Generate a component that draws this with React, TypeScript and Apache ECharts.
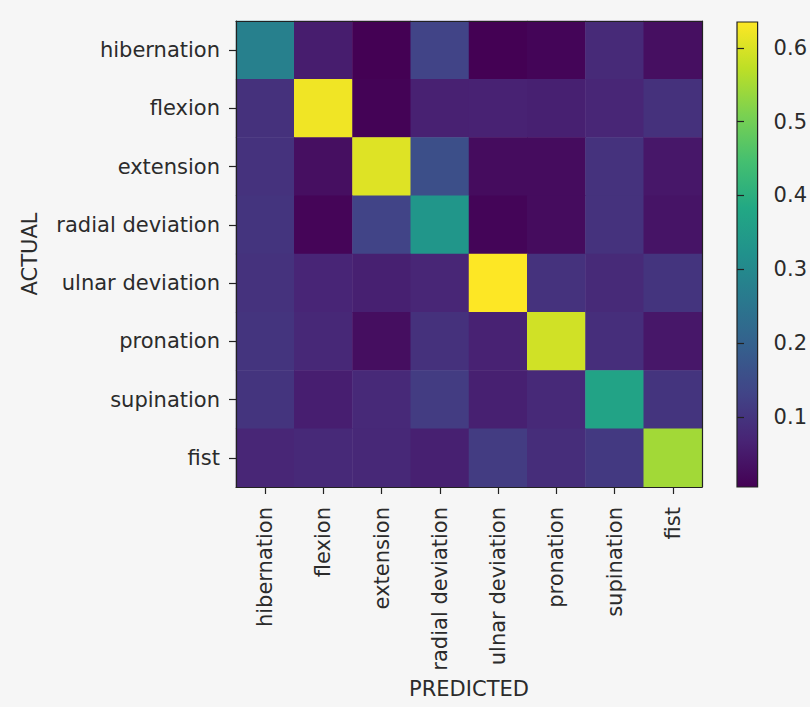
import React, { useEffect, useRef } from "react";
import * as echarts from "echarts";

const actualLabels = [
  "hibernation",
  "flexion",
  "extension",
  "radial deviation",
  "ulnar deviation",
  "pronation",
  "supination",
  "fist",
];
const predictedLabels = [
  "hibernation",
  "flexion",
  "extension",
  "radial deviation",
  "ulnar deviation",
  "pronation",
  "supination",
  "fist",
];

// rows = actual, columns = predicted
const rowHibernation = [0.276, 0.055, 0.005, 0.131, 0.005, 0.012, 0.08, 0.03];
const rowFlexion = [0.093, 0.622, 0.008, 0.062, 0.065, 0.06, 0.072, 0.093];
const rowExtension = [0.095, 0.03, 0.604, 0.156, 0.025, 0.025, 0.095, 0.045];
const rowRadial = [0.1, 0.013, 0.131, 0.333, 0.012, 0.025, 0.095, 0.04];
const rowUlnar = [0.095, 0.07, 0.06, 0.072, 0.635, 0.095, 0.08, 0.1];
const rowPronation = [0.1, 0.075, 0.028, 0.093, 0.065, 0.591, 0.088, 0.045];
const rowSupination = [0.1, 0.058, 0.077, 0.115, 0.06, 0.078, 0.37, 0.1];
const rowFist = [0.072, 0.078, 0.075, 0.06, 0.115, 0.085, 0.11, 0.547];

const matrix = [
  rowHibernation,
  rowFlexion,
  rowExtension,
  rowRadial,
  rowUlnar,
  rowPronation,
  rowSupination,
  rowFist,
];

const colorMin = 0.005;
const colorMax = 0.635;
const colorbarTicks = [0.1, 0.2, 0.3, 0.4, 0.5, 0.6];

const viridis = [
  "#440154",
  "#482475",
  "#414487",
  "#355f8d",
  "#2a788e",
  "#21918c",
  "#22a884",
  "#44bf70",
  "#7ad151",
  "#bddf26",
  "#fde725",
];

const FONT = "DejaVu Sans";
const TEXT = "#2b2b2b";

export default function App() {
  const ref = useRef<HTMLDivElement>(null);

  useEffect(() => {
    if (!ref.current) return;
    const chart = echarts.init(ref.current, null, { renderer: "svg" });

    const data: number[][] = [];
    matrix.forEach((row, yi) => {
      row.forEach((v, xi) => {
        data.push([xi, yi, v]);
      });
    });

    const stops = viridis
      .slice()
      .reverse()
      .map((c, i) => ({ offset: i / (viridis.length - 1), color: c }));

    const option: any = {
      animation: false,
      backgroundColor: "#f6f6f6",
      textStyle: { fontFamily: FONT },
      grid: [
        { left: 236, top: 21, width: 466, height: 466 },
        { left: 737, top: 22, width: 24, height: 465 },
      ],
      xAxis: [
        {
          type: "category",
          gridIndex: 0,
          data: predictedLabels,
          position: "bottom",
          z: 10,
          name: "PREDICTED",
          nameLocation: "middle",
          nameGap: 190,
          nameTextStyle: { fontSize: 21, color: TEXT, fontFamily: FONT },
          axisLine: { show: true, lineStyle: { color: "#222", width: 1.2 } },
          axisTick: { show: true, alignWithLabel: true, length: 7, lineStyle: { color: "#222", width: 1.2 } },
          axisLabel: { rotate: 90, fontSize: 21, color: TEXT, margin: 20, fontFamily: FONT },
          splitLine: { show: false },
        },
        {
          type: "category",
          gridIndex: 0,
          data: predictedLabels,
          position: "top",
          z: 10,
          axisLine: { show: true, lineStyle: { color: "#222", width: 1.2 } },
          axisTick: { show: false },
          axisLabel: { show: false },
          splitLine: { show: false },
        },
        {
          type: "value",
          gridIndex: 1,
          min: 0,
          max: 1,
          show: false,
        },
      ],
      yAxis: [
        {
          type: "category",
          gridIndex: 0,
          data: actualLabels,
          inverse: true,
          position: "left",
          z: 10,
          name: "ACTUAL",
          nameLocation: "middle",
          nameGap: 196,
          nameRotate: 90,
          nameTextStyle: { fontSize: 21, color: TEXT, fontFamily: FONT },
          axisLine: { show: true, lineStyle: { color: "#222", width: 1.2 } },
          axisTick: { show: true, alignWithLabel: true, length: 7, lineStyle: { color: "#222", width: 1.2 } },
          axisLabel: { fontSize: 21, color: TEXT, margin: 16, fontFamily: FONT },
          splitLine: { show: false },
        },
        {
          type: "category",
          gridIndex: 0,
          data: actualLabels,
          inverse: true,
          position: "right",
          z: 10,
          axisLine: { show: true, lineStyle: { color: "#222", width: 1.2 } },
          axisTick: { show: false },
          axisLabel: { show: false },
          splitLine: { show: false },
        },
        {
          type: "value",
          gridIndex: 1,
          min: colorMin,
          max: colorMax,
          position: "right",
          z: 10,
          axisLine: { show: false },
          axisTick: {
            show: true,
            length: 7,
            customValues: colorbarTicks,
            lineStyle: { color: "#222", width: 1.2 },
          },
          axisLabel: {
            show: true,
            customValues: colorbarTicks,
            fontSize: 21,
            color: TEXT,
            margin: 16,
            fontFamily: FONT,
            formatter: (v: number) => v.toFixed(1),
          },
          splitLine: { show: false },
        },
      ],
      visualMap: {
        show: false,
        type: "continuous",
        min: colorMin,
        max: colorMax,
        seriesIndex: 0,
        dimension: 2,
        inRange: { color: viridis },
      },
      series: [
        {
          type: "heatmap",
          xAxisIndex: 0,
          yAxisIndex: 0,
          data,
          itemStyle: { borderWidth: 0 },
          emphasis: { disabled: true },
        },
        {
          type: "custom",
          xAxisIndex: 2,
          yAxisIndex: 2,
          data: [[0, colorMin, 1, colorMax]],
          renderItem: (params: any, api: any) => {
            const p0 = api.coord([0, colorMax]);
            const p1 = api.coord([1, colorMin]);
            return {
              type: "rect",
              shape: { x: p0[0], y: p0[1], width: p1[0] - p0[0], height: p1[1] - p0[1] },
              style: {
                fill: new echarts.graphic.LinearGradient(0, 0, 0, 1, stops),
                stroke: "#222",
                lineWidth: 1.2,
              },
            };
          },
          silent: true,
        },
      ],
    };

    chart.setOption(option);
    return () => chart.dispose();
  }, []);

  return (
    <div
      ref={ref}
      style={{ position: "fixed", left: 0, top: 0, width: 810, height: 707 }}
    />
  );
}
